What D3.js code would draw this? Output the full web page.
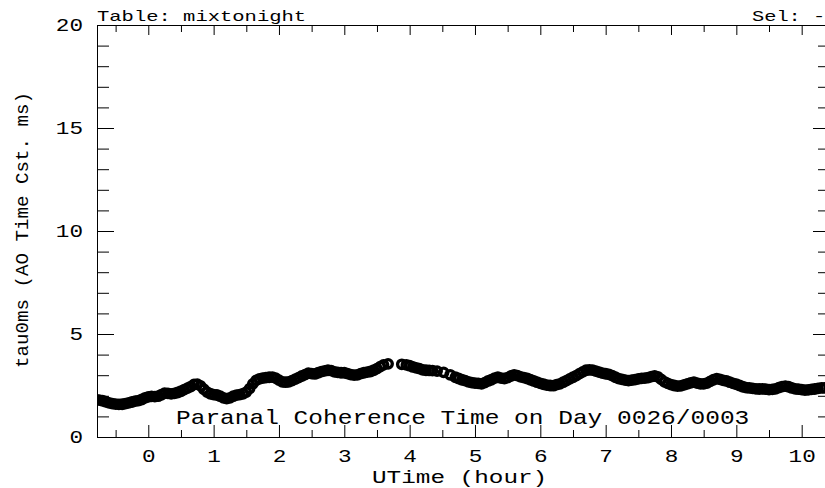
<!DOCTYPE html>
<html>
<head>
<meta charset="utf-8">
<script src="https://cdn.jsdelivr.net/npm/d3@7"></script>
<style>
  html, body { margin: 0; padding: 0; background: #fff; }
  svg { display: block; }
  text { font-family: "Liberation Mono", "DejaVu Sans Mono", monospace; fill: #000; }
</style>
</head>
<body>
<svg id="chart" width="825" height="488"></svg>
<script>
// Universal time of each sample (hours)
const utime = [
  -0.80, -0.75, -0.70, -0.65, -0.60, -0.55, -0.50, -0.45, -0.40, -0.35, -0.30, -0.25, -0.20, -0.15, -0.10, -0.05,
  0.00, 0.05, 0.10, 0.15, 0.20, 0.25, 0.30, 0.35, 0.40, 0.45, 0.50, 0.55, 0.60, 0.65, 0.70, 0.75, 0.80, 0.85, 0.90, 0.95,
  1.00, 1.05, 1.10, 1.15, 1.20, 1.25, 1.30, 1.35, 1.40, 1.45, 1.50, 1.55, 1.60, 1.65, 1.70, 1.75, 1.80, 1.85, 1.90, 1.95,
  2.00, 2.05, 2.10, 2.15, 2.20, 2.25, 2.30, 2.35, 2.40, 2.45, 2.50, 2.55, 2.60, 2.65, 2.70, 2.75, 2.80, 2.85, 2.90, 2.95,
  3.00, 3.05, 3.10, 3.15, 3.20, 3.25, 3.30, 3.35, 3.40, 3.45, 3.50, 3.55, 3.60, 3.67,
  3.88, 3.95, 4.00, 4.05, 4.10, 4.15, 4.20, 4.25, 4.30, 4.35, 4.42, 4.52, 4.62, 4.70, 4.75, 4.80, 4.85, 4.90, 4.95,
  5.00, 5.05, 5.10, 5.15, 5.20, 5.25, 5.30, 5.35, 5.40, 5.45, 5.50, 5.55, 5.60, 5.65, 5.70, 5.75, 5.80, 5.85, 5.90, 5.95,
  6.00, 6.05, 6.10, 6.15, 6.20, 6.25, 6.30, 6.35, 6.40, 6.45, 6.50, 6.55, 6.60, 6.65, 6.70, 6.75, 6.80, 6.85, 6.90, 6.95,
  7.00, 7.05, 7.10, 7.15, 7.20, 7.25, 7.30, 7.35, 7.40, 7.45, 7.50, 7.55, 7.60, 7.65, 7.70, 7.75, 7.80, 7.85, 7.90, 7.95,
  8.00, 8.05, 8.10, 8.15, 8.20, 8.25, 8.30, 8.35, 8.40, 8.45, 8.50, 8.55, 8.60, 8.65, 8.70, 8.75, 8.80, 8.85, 8.90, 8.95,
  9.00, 9.05, 9.10, 9.15, 9.20, 9.25, 9.30, 9.35, 9.40, 9.45, 9.50, 9.55, 9.60, 9.65, 9.70, 9.75, 9.80, 9.85, 9.90, 9.95,
  10.00, 10.05, 10.10, 10.15, 10.20, 10.25, 10.30, 10.35
];

// Coherence time tau0 (ms) for each sample
const tau0 = [
  1.81, 1.79, 1.76, 1.71, 1.66, 1.62, 1.60, 1.58, 1.59, 1.62, 1.66, 1.70, 1.74, 1.77, 1.82, 1.90,
  1.95, 1.97, 1.96, 1.98, 2.05, 2.13, 2.12, 2.09, 2.12, 2.16, 2.22, 2.30, 2.37, 2.45, 2.55, 2.57, 2.48, 2.32, 2.18, 2.10,
  2.06, 2.04, 1.98, 1.90, 1.86, 1.90, 1.98, 2.03, 2.06, 2.10, 2.18, 2.35, 2.58, 2.75, 2.82, 2.86, 2.88, 2.90, 2.91, 2.86,
  2.76, 2.68, 2.66, 2.68, 2.74, 2.81, 2.88, 2.96, 3.03, 3.10, 3.08, 3.06, 3.12, 3.17, 3.21, 3.24, 3.22, 3.16, 3.14, 3.12,
  3.12, 3.08, 3.03, 3.00, 3.02, 3.08, 3.12, 3.15, 3.18, 3.24, 3.32, 3.42, 3.50, 3.55,
  3.53, 3.50, 3.46, 3.40, 3.36, 3.32, 3.26, 3.24, 3.23, 3.22, 3.20, 3.14, 3.02, 2.90, 2.84, 2.78, 2.74, 2.68, 2.64,
  2.62, 2.60, 2.58, 2.64, 2.72, 2.78, 2.86, 2.90, 2.86, 2.84, 2.88, 2.96, 3.02, 2.98, 2.92, 2.88, 2.84, 2.78, 2.72, 2.66,
  2.60, 2.56, 2.52, 2.50, 2.49, 2.54, 2.58, 2.66, 2.74, 2.82, 2.90, 2.98, 3.08, 3.16, 3.24, 3.26, 3.25, 3.20, 3.15, 3.10,
  3.07, 3.04, 2.98, 2.90, 2.83, 2.80, 2.76, 2.74, 2.76, 2.79, 2.82, 2.85, 2.86, 2.88, 2.93, 2.96, 2.92, 2.80, 2.68, 2.60,
  2.54, 2.50, 2.47, 2.48, 2.53, 2.58, 2.63, 2.66, 2.62, 2.58, 2.58, 2.62, 2.70, 2.78, 2.83, 2.80, 2.75, 2.72, 2.66, 2.60,
  2.56, 2.50, 2.44, 2.40, 2.38, 2.36, 2.34, 2.33, 2.34, 2.32, 2.30, 2.31, 2.34, 2.40, 2.45, 2.47, 2.44, 2.38, 2.34, 2.32,
  2.30, 2.28, 2.29, 2.31, 2.33, 2.36, 2.38, 2.38
];

const xMajorTicks = [0, 1, 2, 3, 4, 5, 6, 7, 8, 9, 10];
const xMinorTicks = [-0.5, 0.5, 1.5, 2.5, 3.5, 4.5, 5.5, 6.5, 7.5, 8.5, 9.5];
const yMajorTicks = [0, 5, 10, 15, 20];
const yMinorTicks = [1, 2, 3, 4, 6, 7, 8, 9, 11, 12, 13, 14, 16, 17, 18, 19];

const tableName = "mixtonight";
const selValue = "-";
const plotTitle = "Paranal Coherence Time on Day 0026/0003";
const xLabel = "UTime (hour)";
const yLabel = "tau0ms (AO Time Cst. ms)";

const frame = { left: 97, right: 825, top: 25, bottom: 437 };

const svg = d3.select("#chart");

const x = d3.scaleLinear().domain([-0.785, 10.357]).range([frame.left, frame.right]);
const y = d3.scaleLinear().domain([0, 20]).range([frame.bottom, frame.top]);

// stretch monospace text horizontally to a fixed advance per character
function widen(sel, advance) {
  sel.each(function () {
    const t = d3.select(this);
    const n = t.text().length;
    t.attr("textLength", n * advance).attr("lengthAdjust", "spacingAndGlyphs");
  });
}

function styleAxis(g) {
  g.attr("color", "#000");
  g.selectAll("path, line").attr("stroke", "#000").attr("stroke-width", 1);
}

// bottom axis: labelled major ticks and short minor ticks, both pointing inward
const gBottom = svg.append("g")
  .attr("transform", `translate(0,${frame.bottom})`)
  .call(d3.axisBottom(x).tickValues(xMajorTicks).tickSizeInner(-12).tickSizeOuter(0).tickFormat(d3.format("d")))
  .call(styleAxis);
gBottom.selectAll("text")
  .attr("y", 25).attr("dy", null)
  .attr("fill", "#000")
  .style("font-size", "18px")
  .call(widen, 13.6);
svg.append("g")
  .attr("transform", `translate(0,${frame.bottom})`)
  .call(d3.axisBottom(x).tickValues(xMinorTicks).tickSizeInner(-7).tickSizeOuter(0).tickFormat(() => ""))
  .call(styleAxis)
  .call(g => g.select(".domain").remove());

// top axis
svg.append("g")
  .attr("transform", `translate(0,${frame.top})`)
  .call(d3.axisTop(x).tickValues(xMajorTicks).tickSizeInner(-10).tickSizeOuter(0).tickFormat(() => ""))
  .call(styleAxis);
svg.append("g")
  .attr("transform", `translate(0,${frame.top})`)
  .call(d3.axisTop(x).tickValues(xMinorTicks).tickSizeInner(-7).tickSizeOuter(0).tickFormat(() => ""))
  .call(styleAxis)
  .call(g => g.select(".domain").remove());

// left axis
const gLeft = svg.append("g")
  .attr("transform", `translate(${frame.left},0)`)
  .call(d3.axisLeft(y).tickValues(yMajorTicks).tickSizeInner(-17).tickSizeOuter(0).tickPadding(14).tickFormat(d3.format("d")))
  .call(styleAxis);
gLeft.selectAll("text")
  .attr("fill", "#000")
  .style("font-size", "18px")
  .call(widen, 13.6);
svg.append("g")
  .attr("transform", `translate(${frame.left},0)`)
  .call(d3.axisLeft(y).tickValues(yMinorTicks).tickSizeInner(-12).tickSizeOuter(0).tickFormat(() => ""))
  .call(styleAxis)
  .call(g => g.select(".domain").remove());

// right axis
svg.append("g")
  .attr("transform", `translate(${frame.right},0)`)
  .call(d3.axisRight(y).tickValues(yMajorTicks).tickSizeInner(-12).tickSizeOuter(0).tickFormat(() => ""))
  .call(styleAxis);
svg.append("g")
  .attr("transform", `translate(${frame.right},0)`)
  .call(d3.axisRight(y).tickValues(yMinorTicks).tickSizeInner(-7).tickSizeOuter(0).tickFormat(() => ""))
  .call(styleAxis)
  .call(g => g.select(".domain").remove());

// data markers: open circles, clipped to the frame
svg.append("clipPath").attr("id", "plot-clip")
  .append("rect")
  .attr("x", frame.left).attr("y", frame.top)
  .attr("width", frame.right - frame.left).attr("height", frame.bottom - frame.top);

svg.append("g")
  .attr("clip-path", "url(#plot-clip)")
  .selectAll("circle")
  .data(d3.zip(utime, tau0))
  .join("circle")
  .attr("cx", d => x(d[0]))
  .attr("cy", d => y(d[1]))
  .attr("r", 4.2)
  .attr("fill", "none")
  .attr("stroke", "#000")
  .attr("stroke-width", 3.4);

// header texts
svg.append("text")
  .attr("x", 97).attr("y", 21)
  .style("font-size", "15px")
  .text(`Table: ${tableName}`)
  .call(widen, 12.3);
svg.append("text")
  .attr("x", 752).attr("y", 21)
  .style("font-size", "15px")
  .text(`Sel: ${selValue}`)
  .call(widen, 12.2);

// title inside the plot
svg.append("text")
  .attr("x", 176).attr("y", 424)
  .style("font-size", "21px")
  .text(plotTitle)
  .call(widen, 14.7);

// axis titles
svg.append("text")
  .attr("x", 372).attr("y", 483)
  .style("font-size", "18px")
  .text(xLabel)
  .call(widen, 14.6);
svg.append("text")
  .attr("transform", "translate(28,230) rotate(-90)")
  .attr("text-anchor", "middle")
  .style("font-size", "18px")
  .text(yLabel)
  .call(widen, 11.5);
</script>
</body>
</html>
